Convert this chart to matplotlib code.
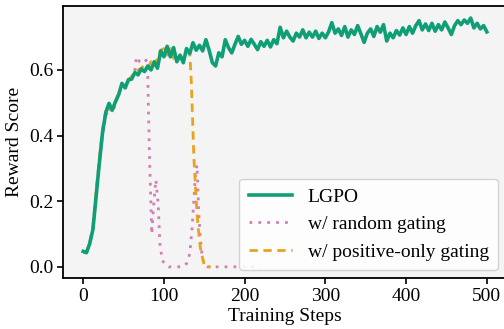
import matplotlib
matplotlib.use("Agg")
import matplotlib.pyplot as plt
import numpy as np

plt.rcParams['font.family'] = ['Liberation Serif', 'DejaVu Serif']
plt.rcParams['font.size'] = 14

# LGPO: training reward every 4 steps
lgpo_steps = list(range(0, 501, 4))
lgpo_reward = [
    0.047, 0.043, 0.070, 0.113, 0.214, 0.316, 0.410, 0.470, 0.498, 0.478,
    0.503, 0.525, 0.559, 0.545, 0.570, 0.572, 0.592, 0.585, 0.603, 0.595,
    0.612, 0.600, 0.625, 0.605, 0.658, 0.640, 0.672, 0.640, 0.668, 0.625,
    0.645, 0.622, 0.665, 0.650, 0.683, 0.660, 0.675, 0.658, 0.692, 0.660,
    0.622, 0.612, 0.652, 0.640, 0.692, 0.668, 0.652, 0.678, 0.702, 0.678,
    0.690, 0.672, 0.693, 0.678, 0.662, 0.686, 0.672, 0.690, 0.670, 0.692,
    0.680, 0.730, 0.698, 0.718, 0.700, 0.688, 0.712, 0.700, 0.722, 0.698,
    0.715, 0.700, 0.718, 0.696, 0.712, 0.698, 0.716, 0.744, 0.712, 0.725,
    0.705, 0.732, 0.700, 0.722, 0.708, 0.735, 0.710, 0.684, 0.712, 0.725,
    0.702, 0.732, 0.715, 0.738, 0.688, 0.712, 0.698, 0.720, 0.706, 0.728,
    0.708, 0.732, 0.712, 0.735, 0.750, 0.722, 0.740, 0.720, 0.742, 0.718,
    0.738, 0.722, 0.746, 0.728, 0.708, 0.735, 0.750, 0.738, 0.752, 0.742,
    0.758, 0.728, 0.742, 0.725, 0.735, 0.716,
]

# w/ random gating
rand_steps = [0, 4, 8, 12, 16, 20, 24, 28, 32, 36, 40, 44, 48, 52, 56, 60,
              64, 66, 70, 74, 78, 80, 82, 85, 87, 90, 93, 95, 98, 102, 106,
              115, 124, 128, 132, 135, 137, 139, 141, 142, 143, 145, 147, 150,
              154, 170, 190, 220]
rand_reward = [0.045, 0.045, 0.072, 0.115, 0.220, 0.320, 0.400, 0.460, 0.485,
               0.470, 0.495, 0.530, 0.545, 0.550, 0.565, 0.575, 0.600, 0.640,
               0.625, 0.620, 0.630, 0.580, 0.350, 0.100, 0.180, 0.265, 0.190,
               0.070, 0.020, 0.005, 0.000, 0.000, 0.000, 0.010, 0.040, 0.120,
               0.200, 0.280, 0.310, 0.250, 0.170, 0.090, 0.040, 0.005, 0.000,
               0.000, 0.000, 0.000]

# w/ positive-only gating
pos_steps = list(range(0, 133, 4)) + [134, 137, 140, 142, 145, 148, 150, 154, 158]
pos_reward = [0.045, 0.045, 0.075, 0.120, 0.230, 0.330, 0.420, 0.475, 0.490,
              0.475, 0.505, 0.530, 0.555, 0.552, 0.570, 0.580, 0.595, 0.600,
              0.605, 0.615, 0.605, 0.625, 0.610, 0.635, 0.660, 0.665, 0.645,
              0.665, 0.635, 0.640, 0.645, 0.630, 0.660, 0.655,
              0.560, 0.340, 0.200, 0.130, 0.060, 0.025, 0.005, 0.000, 0.000]

fig = plt.figure(figsize=(5.04, 3.29), dpi=100)
ax = fig.add_axes([0.125, 0.155, 0.881, 0.827])
ax.set_facecolor('#f4f4f4')

ax.plot(lgpo_steps, lgpo_reward, color='#0f9e76', lw=2.6, label='LGPO', zorder=3)
ax.plot(rand_steps, rand_reward, color='#d17fb4', lw=2.0, ls=(0, (1, 2.2)),
        label='w/ random gating', zorder=2)
ax.plot(pos_steps, pos_reward, color='#eaa21a', lw=2.0, ls=(0, (3, 2)),
        label='w/ positive-only gating', zorder=2)

ax.set_xlim(-25, 525)
ax.set_ylim(-0.034, 0.795)
ax.set_xticks([0, 100, 200, 300, 400, 500])
ax.set_yticks([0.0, 0.2, 0.4, 0.6])
ax.yaxis.set_major_formatter(matplotlib.ticker.FormatStrFormatter('%.1f'))
ax.tick_params(labelsize=14, length=4, width=1.2, pad=3)
for s in ax.spines.values():
    s.set_linewidth(1.3)
ax.set_xlabel('Training Steps', fontsize=14, labelpad=2)
ax.set_ylabel('Reward Score', fontsize=14, labelpad=4)

ax.legend(loc='lower right', fontsize=14, handlelength=2.2,
          bbox_to_anchor=(0.998, 0.0), borderaxespad=0.4, framealpha=0.85,
          labelspacing=0.5, borderpad=0.5)

fig.savefig('out.png', dpi=100)
